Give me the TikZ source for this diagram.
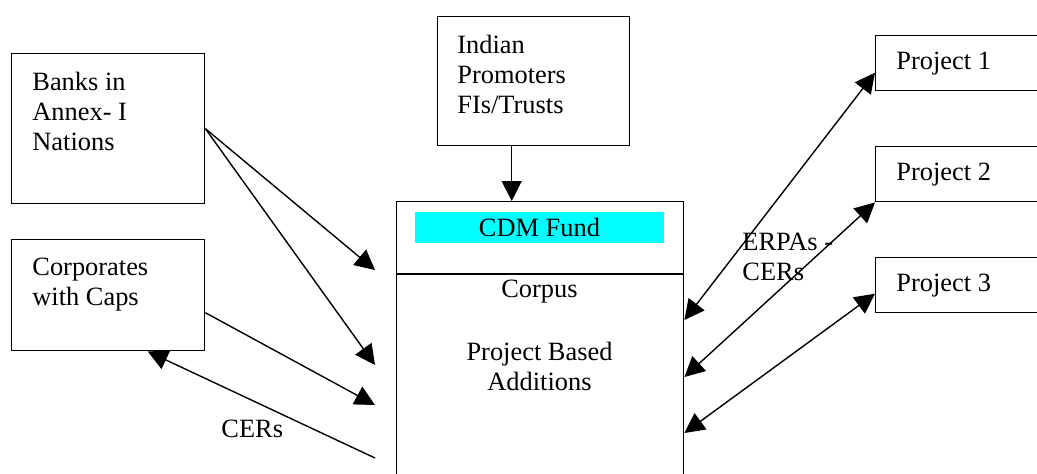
\documentclass[tikz,border=0pt]{standalone}
\usepackage{fontspec}
\setmainfont{Liberation Serif}
\usetikzlibrary{positioning,arrows.meta}
\definecolor{fundcyan}{RGB}{0,255,255}

\begin{document}
\begin{tikzpicture}[x=0.5pt,y=-0.5pt,
  box/.style={draw,line width=0.7pt,inner sep=0pt,anchor=north west},
  txt/.style={inner sep=0pt,align=left,font={\fontsize{13.2pt}{15pt}\selectfont}},
  arr/.style={line width=0.7pt,-{Triangle[length=10pt,width=10pt]}},
  biarr/.style={line width=0.7pt,{Triangle[length=10pt,width=10pt]}-{Triangle[length=10pt,width=10pt]}}]
  \useasboundingbox (0,0) rectangle (1037,473);
  \clip (0,0) rectangle (1037,473);

  %boxes on the left
  \node[box,minimum width=96.5pt,minimum height=75pt] (banks) at (11,53) {};
  \node[txt,below right=9.5pt and 10.5pt of banks.north west] (bankstext) {Banks in\\Annex- I\\Nations};
  \node[box,minimum width=96.5pt,minimum height=55.5pt] (corp) at (11,239) {};
  \node[txt,below right=9.5pt and 10.5pt of corp.north west] (corptext) {Corporates\\with Caps};

  %promoters on top
  \node[box,minimum width=96pt,minimum height=64.5pt] (promo) at (437,16) {};
  \node[txt,below right=9.5pt and 10pt of promo.north west] (promotext) {Indian\\Promoters\\FIs/Trusts};

  %the fund
  \node[box,minimum width=143.5pt,minimum height=140pt] (fund) at (396,201) {};
  \draw[line width=0.7pt] ([yshift=-36.5pt]fund.north west) -- ([yshift=-36.5pt]fund.north east);
  \node[txt,fill=fundcyan,minimum width=124.5pt,minimum height=15.5pt] (cdm) at (539.5,227.5) {CDM Fund};
  \node[txt,anchor=north] (corpus) at (539.5,280) {Corpus};
  \node[txt,anchor=north,align=center] (pba) at (539.5,342) {Project Based\\Additions};

  %projects
  \foreach \i/\y in {1/35,2/146,3/257}{
    \node[box,minimum width=85pt,minimum height=27.5pt] (proj\i) at (875,\y) {};
    \node[txt,below right=8.5pt and 10.5pt of proj\i.north west] (projtext\i) {Project \i};
  }

  %arrows into the fund
  \coordinate (b1) at (375,270);
  \coordinate (b2) at (375,365);
  \coordinate (c1) at (375,405);
  \coordinate (c2) at (375,458);
  \draw[arr] (banks.east) -- (b1);
  \draw[arr] (banks.east) -- (b2);
  \draw[arr] ([yshift=-8.75pt]corp.east) -- (c1);
  \draw[arr] (c2) -- ([xshift=19.75pt]corp.south);
  \node[txt,anchor=north west] (cers) at (221,420) {CERs};
  \draw[arr] ([xshift=-11pt]promo.south) -- ([xshift=-11pt]promo.south |- fund.north);

  %exchanges with projects
  \draw[biarr] ([yshift=-59.5pt]fund.north east) -- ([yshift=-4.75pt]proj1.west);
  \draw[biarr] ([yshift=-88pt]fund.north east) -- (proj2.south west);
  \draw[biarr] ([yshift=-116pt]fund.north east) -- ([yshift=-4.25pt]proj3.west);
  \node[txt,anchor=north west] (erpa) at (742,233) {ERPAs -\\CERs};
\end{tikzpicture}
\end{document}
